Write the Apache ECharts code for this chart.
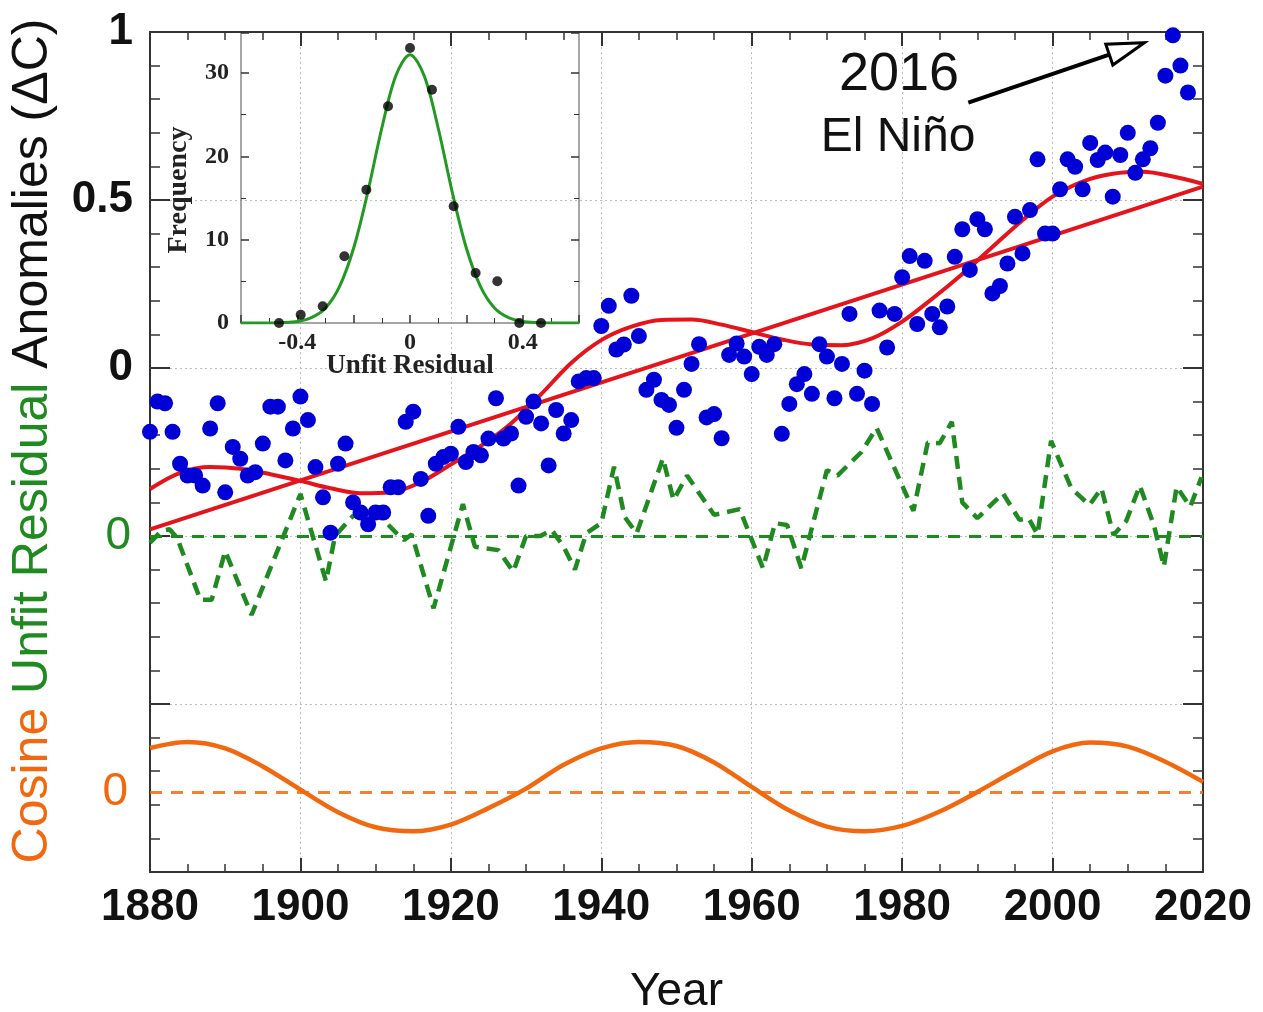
<!DOCTYPE html>
<html><head><meta charset="utf-8">
<script src="https://cdn.jsdelivr.net/npm/echarts@6/dist/echarts.min.js"></script>
<style>html,body{margin:0;padding:0;background:#fff}#c{width:1263px;height:1012px}</style>
</head><body><div id="c"></div>
<script>
// ---------- data ----------
const firstYear = 1880;
const anomalies = [
 -0.19,-0.10,-0.105,-0.19,-0.285,-0.32,-0.32,-0.35,-0.18,-0.105,
 -0.37,-0.235,-0.27,-0.32,-0.31,-0.225,-0.115,-0.115,-0.275,-0.18,
 -0.085,-0.155,-0.295,-0.385,-0.49,-0.285,-0.225,-0.40,-0.43,-0.465,
 -0.43,-0.43,-0.355,-0.355,-0.16,-0.13,-0.33,-0.44,-0.285,-0.265,
 -0.255,-0.175,-0.28,-0.25,-0.26,-0.21,-0.09,-0.21,-0.195,-0.35,
 -0.145,-0.10,-0.165,-0.29,-0.125,-0.195,-0.155,-0.04,-0.03,-0.03,
 0.125,0.185,0.055,0.07,0.215,0.095,-0.065,-0.035,-0.095,-0.11,
 -0.178,-0.065,0.012,0.071,-0.147,-0.137,-0.209,0.039,0.073,0.034,
 -0.018,0.063,0.039,0.071,-0.196,-0.107,-0.048,-0.018,-0.077,0.071,
 0.034,-0.09,0.012,0.161,-0.077,-0.008,-0.107,0.171,0.061,0.161,
 0.27,0.333,0.131,0.319,0.161,0.121,0.183,0.331,0.413,0.292,
 0.443,0.413,0.222,0.244,0.311,0.45,0.341,0.47,0.621,0.40,
 0.40,0.532,0.621,0.599,0.532,0.67,0.619,0.641,0.51,0.634,
 0.70,0.581,0.621,0.654,0.73,0.87,0.99,0.90,0.82
];
const trendYears = [1880, 2020];
const trendValues = [-0.48, 0.54];
const fitYears = [1880,1884,1888,1892,1896,1900,1904,1908,1912,1916,1920,1924,1928,1932,1936,1940,1944,1948,1952,1956,1960,1964,1968,1972,1976,1980,1984,1988,1992,1996,2000,2004,2008,2012,2016,2020];
const fitValues = [-0.36,-0.312,-0.295,-0.30,-0.316,-0.336,-0.358,-0.373,-0.37,-0.34,-0.287,-0.232,-0.165,-0.078,0.015,0.083,0.123,0.143,0.144,0.129,0.107,0.085,0.07,0.068,0.088,0.138,0.206,0.28,0.36,0.44,0.51,0.555,0.578,0.584,0.57,0.548];
const residualYears = [1880,1881.5,1882.6,1883.6,1886.7,1888.2,1890,1893.5,1900,1903.4,1904.6,1907,1910.5,1912.8,1913.8,1914.8,1917.7,1921.6,1923.2,1926.3,1928.3,1930,1931.9,1933.4,1935,1936.5,1938,1940,1941.7,1943.1,1944.7,1948.2,1949.6,1951.4,1955,1958.4,1961.5,1963.1,1964.7,1966.6,1970,1971.4,1974.6,1976.6,1981.5,1983.4,1985,1986.6,1988,1990,1993.4,1995.6,1996.8,1998,1999.8,2002.5,2004.9,2006.5,2008.1,2009.8,2011.6,2013.5,2014.8,2016.5,2018.3,2019.8];
const residualValues = [-0.02,0.015,0.02,-0.005,-0.19,-0.19,-0.045,-0.235,0.125,-0.135,0.0,0.06,0.06,0.008,-0.012,0.005,-0.215,0.095,-0.032,-0.042,-0.106,0.0,0.0,0.018,-0.032,-0.1,0.008,0.038,0.206,0.057,0.008,0.231,0.107,0.18,0.063,0.08,-0.096,0.038,0.033,-0.096,0.196,0.18,0.25,0.322,0.075,0.278,0.276,0.34,0.1,0.053,0.127,0.048,0.053,0.005,0.283,0.142,0.092,0.142,0.003,0.045,0.15,0.03,-0.091,0.147,0.087,0.175];
const cosineYears = [1880,1885,1890,1895,1900,1905,1910,1915,1920,1925,1930,1935,1940,1945,1950,1955,1960,1965,1970,1975,1980,1985,1990,1995,2000,2005,2010,2015,2020];
const cosineValues = [0.131,0.149,0.13,0.076,0.007,-0.06,-0.105,-0.117,-0.097,-0.048,0.01,0.081,0.13,0.149,0.137,0.088,0.015,-0.055,-0.103,-0.117,-0.101,-0.058,0.0,0.063,0.121,0.147,0.135,0.09,0.03];
const binCenters = [-0.465,-0.388,-0.31,-0.233,-0.155,-0.078,0,0.078,0.155,0.233,0.31,0.388,0.465];
const binCounts = [0,1,2,8,16,26,33,28,14,6,5,0,0];
const gaussX = [-0.6,-0.55,-0.5,-0.45,-0.4,-0.35,-0.3,-0.25,-0.2,-0.15,-0.1,-0.05,0,0.05,0.1,0.15,0.2,0.25,0.3,0.35,0.4,0.45,0.5,0.55,0.6];
const gaussY = [0,0,0.01,0.05,0.19,0.64,1.8,4.4,9.0,15.7,23.4,29.7,32.2,29.7,23.4,15.7,9.0,4.4,1.8,0.64,0.19,0.05,0.01,0,0];
const yTickLabels = ['0','0.5','1'];
const insetXTickLabels = ['-0.4','0','0.4'];
const insetYTickLabels = ['0','10','20','30'];
const arrowStart = [1988.8, 0.79];
const arrowTip = [2012.2, 0.968];

// ---------- styles ----------
const BLUE = '#0000d6', RED = '#e5141c', GREEN = '#1f8a1f', ORANGE = '#f2680f';
const SANS = '"Liberation Sans", Arial, sans-serif';
const SERIF = '"Liberation Serif", "Times New Roman", serif';
const AX = '#333';
const SMOOTH = 0.33;

const scatterData = anomalies.map((v, i) => [firstYear + i, v]);
const pairs = (xs, ys) => xs.map((x, i) => [x, ys[i]]);
const pick = list => v => { const s = (Math.round(v * 10) / 10).toString(); return list.indexOf(s) >= 0 ? s : ''; };

const chart = echarts.init(document.getElementById('c'), null, {renderer: 'canvas'});

const mainX = {
  type: 'value', gridIndex: 0, min: 1880, max: 2020, interval: 20,
  axisLine: {show: true, onZero: false, lineStyle: {color: AX, width: 2}},
  axisTick: {show: true, inside: true, length: 14, lineStyle: {color: AX, width: 2}},
  minorTick: {show: true, splitNumber: 4, length: 8, lineStyle: {color: AX, width: 1.5}},
  splitLine: {show: true, lineStyle: {color: '#bdbdbd', type: [2, 3], width: 1}},
  minorSplitLine: {show: false}
};

const option = {
  backgroundColor: '#fff',
  animation: false,
  grid: [
    {left: 150, top: 32, width: 1053, height: 840, outerBoundsMode: 'none', containLabel: false},
    {left: 241, top: 33, width: 338, height: 290, outerBoundsMode: 'none', containLabel: false}
  ],
  xAxis: [
    Object.assign({}, mainX, {
      position: 'bottom',
      axisLabel: {show: true, margin: 14, fontSize: 44, fontWeight: 'bold', fontFamily: SANS, color: '#111',
        formatter: v => String(Math.round(v))},
      name: 'Year', nameLocation: 'middle', nameGap: 97, nameMoveOverlap: false,
      nameTextStyle: {fontSize: 46, fontFamily: SANS, color: '#111'}
    }),
    Object.assign({}, mainX, {
      position: 'top', axisLabel: {show: false}, splitLine: {show: false}
    }),
    {
      type: 'value', gridIndex: 1, min: -0.6, max: 0.6, interval: 0.2, position: 'bottom',
      axisLine: {show: true, onZero: false, lineStyle: {color: '#888', width: 1.5}},
      axisTick: {show: true, inside: true, length: 8, lineStyle: {color: '#333', width: 1.5}},
      minorTick: {show: true, splitNumber: 2, length: 5, lineStyle: {color: '#333', width: 1}},
      splitLine: {show: false},
      axisLabel: {show: true, margin: 8, fontSize: 24, fontWeight: 'bold', fontFamily: SERIF, color: '#222',
        formatter: pick(insetXTickLabels)},
      name: 'Unfit Residual', nameLocation: 'middle', nameGap: 30, nameMoveOverlap: false,
      nameTextStyle: {fontSize: 27, fontWeight: 'bold', fontFamily: SERIF, color: '#222'}
    }
  ],
  yAxis: [
    {
      type: 'value', gridIndex: 0, min: -1.5, max: 1, interval: 0.5, position: 'left',
      axisLine: {show: true, onZero: false, lineStyle: {color: AX, width: 2}},
      axisTick: {show: true, inside: true, length: 20, lineStyle: {color: AX, width: 2}},
      minorTick: {show: true, splitNumber: 5, length: 10, lineStyle: {color: AX, width: 1.5}},
      splitLine: {show: true, lineStyle: {color: '#bdbdbd', type: [2, 3], width: 1}},
      axisLabel: {show: true, margin: 17, fontSize: 44, fontWeight: 'bold', fontFamily: SANS, color: '#111',
        formatter: pick(yTickLabels)},
      name: '{p| }{o|Cosine} {g|Unfit Residual} {k|Anomalies (ΔC)}',
      nameLocation: 'middle', nameRotate: 90, nameGap: 92, nameMoveOverlap: false,
      nameTextStyle: {
        fontSize: 50, fontFamily: SANS, color: '#111',
        rich: {
          p: {width: 22, fontSize: 50, fontFamily: SANS},
          o: {fontSize: 50, fontFamily: SANS, color: ORANGE},
          g: {fontSize: 50, fontFamily: SANS, color: GREEN},
          k: {fontSize: 50, fontFamily: SANS, color: '#111'}
        }
      }
    },
    {
      type: 'value', gridIndex: 0, min: -1.5, max: 1, interval: 0.5, position: 'right',
      axisLine: {show: true, onZero: false, lineStyle: {color: AX, width: 2}},
      axisTick: {show: true, inside: true, length: 20, lineStyle: {color: AX, width: 2}},
      minorTick: {show: true, splitNumber: 5, length: 10, lineStyle: {color: AX, width: 1.5}},
      splitLine: {show: false}, axisLabel: {show: false}
    },
    {
      // residual panel axis (its zero sits at -0.5 of the main scale)
      type: 'value', gridIndex: 0, min: -1.0, max: 1.5, interval: 0.5, position: 'left',
      axisLine: {show: false}, axisTick: {show: false}, splitLine: {show: false},
      axisLabel: {show: true, margin: 19, fontSize: 46, fontFamily: SANS, color: GREEN,
        customValues: [0], formatter: v => (Math.abs(v) < 1e-9 ? '0' : '')}
    },
    {
      // cosine panel axis
      type: 'value', gridIndex: 0, min: -0.2381, max: 2.2619, position: 'left',
      axisLine: {show: false}, axisTick: {show: false}, splitLine: {show: false},
      axisLabel: {show: true, margin: 22, fontSize: 46, fontFamily: SANS, color: ORANGE,
        customValues: [0], formatter: v => (Math.abs(v) < 1e-9 ? '0' : '')}
    },
    {
      type: 'value', gridIndex: 1, min: 0, max: 34.8, interval: 10, position: 'left',
      axisLine: {show: true, onZero: false, lineStyle: {color: '#888', width: 1.5}},
      axisTick: {show: true, inside: true, length: 8, lineStyle: {color: '#333', width: 1.5}},
      minorTick: {show: true, splitNumber: 2, length: 5, lineStyle: {color: '#333', width: 1}},
      splitLine: {show: false},
      axisLabel: {show: true, margin: 12, fontSize: 24, fontWeight: 'bold', fontFamily: SERIF, color: '#222',
        formatter: v => { const s = String(Math.round(v * 10) / 10); return insetYTickLabels.indexOf(s) >= 0 ? s : ''; }},
      name: '{t|Frequency}{q| }', nameLocation: 'middle', nameRotate: 90, nameGap: 48, nameMoveOverlap: false,
      nameTextStyle: {fontSize: 28, fontWeight: 'bold', fontFamily: SERIF, color: '#222',
        rich: {t: {fontSize: 28, fontWeight: 'bold', fontFamily: SERIF, color: '#222'}, q: {width: 24, fontSize: 28}}}
    },
    {
      type: 'value', gridIndex: 1, min: 0, max: 34.8, interval: 10, position: 'right',
      axisLine: {show: true, onZero: false, lineStyle: {color: '#888', width: 1.5}},
      axisTick: {show: true, inside: true, length: 8, lineStyle: {color: '#333', width: 1.5}},
      minorTick: {show: true, splitNumber: 2, length: 5, lineStyle: {color: '#333', width: 1}},
      splitLine: {show: false}, axisLabel: {show: false}
    }
  ],
  series: [
    {
      name: 'trend', type: 'line', xAxisIndex: 0, yAxisIndex: 0, z: 3,
      data: pairs(trendYears, trendValues), showSymbol: false, symbol: 'none',
      lineStyle: {color: RED, width: 4}
    },
    {
      name: 'fit', type: 'line', xAxisIndex: 0, yAxisIndex: 0, z: 3, smooth: SMOOTH,
      data: pairs(fitYears, fitValues), showSymbol: false, symbol: 'none',
      lineStyle: {color: RED, width: 4}
    },
    {
      name: 'residual', type: 'line', xAxisIndex: 0, yAxisIndex: 2, z: 3,
      data: pairs(residualYears, residualValues), showSymbol: false, symbol: 'none',
      lineStyle: {color: GREEN, width: 4.5, type: [13, 8]},
      markLine: {silent: true, symbol: 'none', label: {show: false},
        lineStyle: {color: GREEN, width: 3, type: [12, 9]}, data: [{yAxis: 0}]}
    },
    {
      name: 'cosine', type: 'line', xAxisIndex: 0, yAxisIndex: 3, z: 3, smooth: SMOOTH,
      data: pairs(cosineYears, cosineValues), showSymbol: false, symbol: 'none',
      lineStyle: {color: ORANGE, width: 4.5},
      markLine: {silent: true, symbol: 'none', label: {show: false},
        lineStyle: {color: ORANGE, width: 3, type: [12, 9], opacity: 0.85}, data: [{yAxis: 0}]}
    },
    {
      name: 'anomaly', type: 'scatter', xAxisIndex: 0, yAxisIndex: 0, z: 5,
      data: scatterData, symbol: 'circle', symbolSize: 16,
      itemStyle: {color: BLUE, opacity: 1}
    },
    {
      name: 'gauss', type: 'line', xAxisIndex: 2, yAxisIndex: 4, z: 6, smooth: SMOOTH,
      data: pairs(gaussX, gaussY), showSymbol: false, symbol: 'none',
      lineStyle: {color: '#229a22', width: 3}
    },
    {
      name: 'hist', type: 'scatter', xAxisIndex: 2, yAxisIndex: 4, z: 7,
      data: pairs(binCenters, binCounts), symbol: 'circle', symbolSize: 10,
      itemStyle: {color: '#000'}
    }
  ]
};

chart.setOption(option);

// annotation: hollow-headed arrow and text, positioned from data coordinates
const p0 = chart.convertToPixel({xAxisIndex: 0, yAxisIndex: 0}, arrowStart);
const pt = chart.convertToPixel({xAxisIndex: 0, yAxisIndex: 0}, arrowTip);
const dx = pt[0] - p0[0], dy = pt[1] - p0[1];
const len = Math.sqrt(dx * dx + dy * dy);
const ux = dx / len, uy = dy / len, nx = -uy, ny = ux;
const headLen = 37, headHalf = 11;
const bx = pt[0] - ux * headLen, by = pt[1] - uy * headLen;
chart.setOption({
  graphic: [
    {type: 'line', z: 50, shape: {x1: p0[0], y1: p0[1], x2: bx, y2: by},
      style: {stroke: '#000', lineWidth: 4}},
    {type: 'polygon', z: 51, shape: {points: [[pt[0], pt[1]], [bx + nx * headHalf, by + ny * headHalf], [bx - nx * headHalf, by - ny * headHalf]]},
      style: {fill: '#fff', stroke: '#000', lineWidth: 3, lineJoin: 'miter'}},
    {type: 'text', z: 50, x: 899, y: 75,
      style: {text: '2016', font: 'normal 54px ' + SANS, fill: '#111', align: 'center', verticalAlign: 'middle', textAlign: 'center', textVerticalAlign: 'middle'}},
    {type: 'text', z: 50, x: 898, y: 138,
      style: {text: 'El Niño', font: 'normal 48px ' + SANS, fill: '#111', align: 'center', verticalAlign: 'middle', textAlign: 'center', textVerticalAlign: 'middle'}}
  ]
});
</script>
</body></html>
